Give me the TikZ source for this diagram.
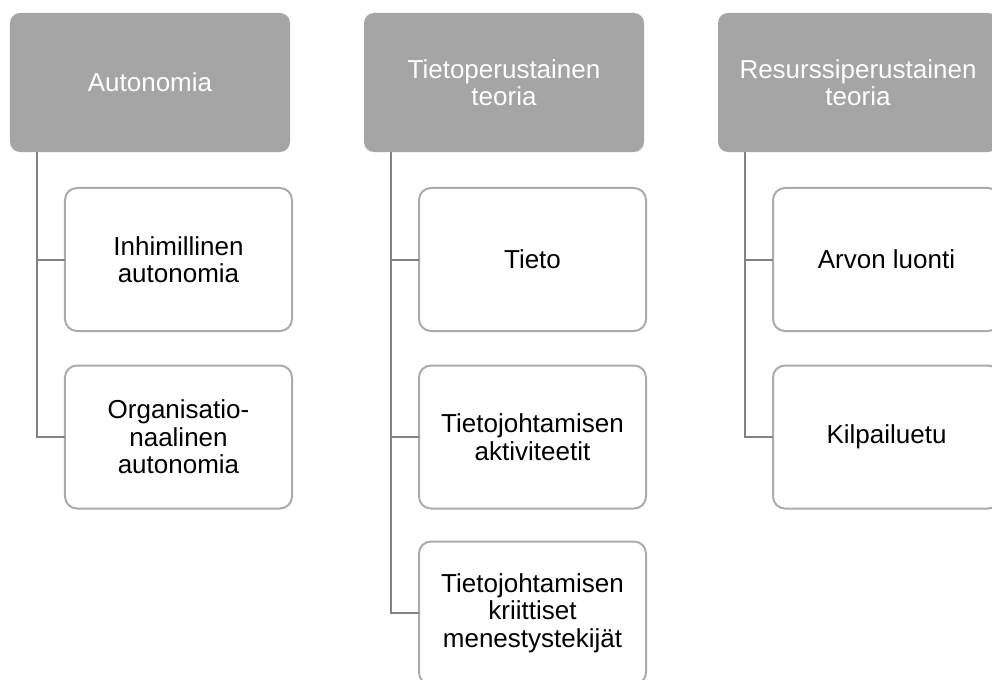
\documentclass[tikz,border=0pt]{standalone}
\usepackage{fontspec}
\setmainfont{Liberation Sans}
\definecolor{headfill}{HTML}{A5A5A5}
\definecolor{boxline}{HTML}{ABABAB}
\definecolor{linkline}{HTML}{828282}
\tikzset{
  headbox/.style={rectangle, rounded corners=10bp, fill=headfill, draw=none,
    minimum width=280bp, minimum height=139bp, inner sep=0pt, outer sep=0pt,
    text=white, align=center, font=\fontsize{26bp}{27.5bp}\selectfont},
  itembox/.style={rectangle, rounded corners=12bp, fill=white, draw=boxline,
    line width=2bp, minimum width=227bp, minimum height=143bp, inner sep=0pt,
    outer sep=0pt, text=black, align=center,
    font=\fontsize{26bp}{27.5bp}\selectfont},
  link/.style={draw=linkline, line width=2bp}
}
\begin{document}
\begin{tikzpicture}[x=1bp, y=-1bp]
\useasboundingbox (0,0) rectangle (992,680);
\clip (0,0) rectangle (992,680);

% column headers
\node[headbox] (h1) at (150,82.5) {Autonomia};
\node[headbox] (h2) at (504,82.5) {Tietoperustainen\\teoria};
\node[headbox] (h3) at (858,82.5) {Resurssiperustainen\\teoria};

% column 1
\node[itembox] (a1) at (178.5,259.5) {Inhimillinen\\autonomia};
\node[itembox] (a2) at (178.5,437) {Organisatio-\\naalinen\\autonomia};

% column 2
\node[itembox] (b1) at (532.5,259.5) {Tieto};
\node[itembox] (b2) at (532.5,437) {Tietojohtamisen\\aktiviteetit};
\node[itembox] (b3) at (532.5,613) {Tietojohtamisen\\kriittiset\\menestystekijät};

% column 3
\node[itembox] (c1) at (886.5,259.5) {Arvon luonti};
\node[itembox] (c2) at (886.5,437) {Kilpailuetu};

% connectors
\foreach \h/\k in {h1/a1, h1/a2, h2/b1, h2/b2, h2/b3, h3/c1, h3/c2}
  \draw[link] ([xshift=27bp]\h.south west) |- (\k.west);
\end{tikzpicture}
\end{document}
